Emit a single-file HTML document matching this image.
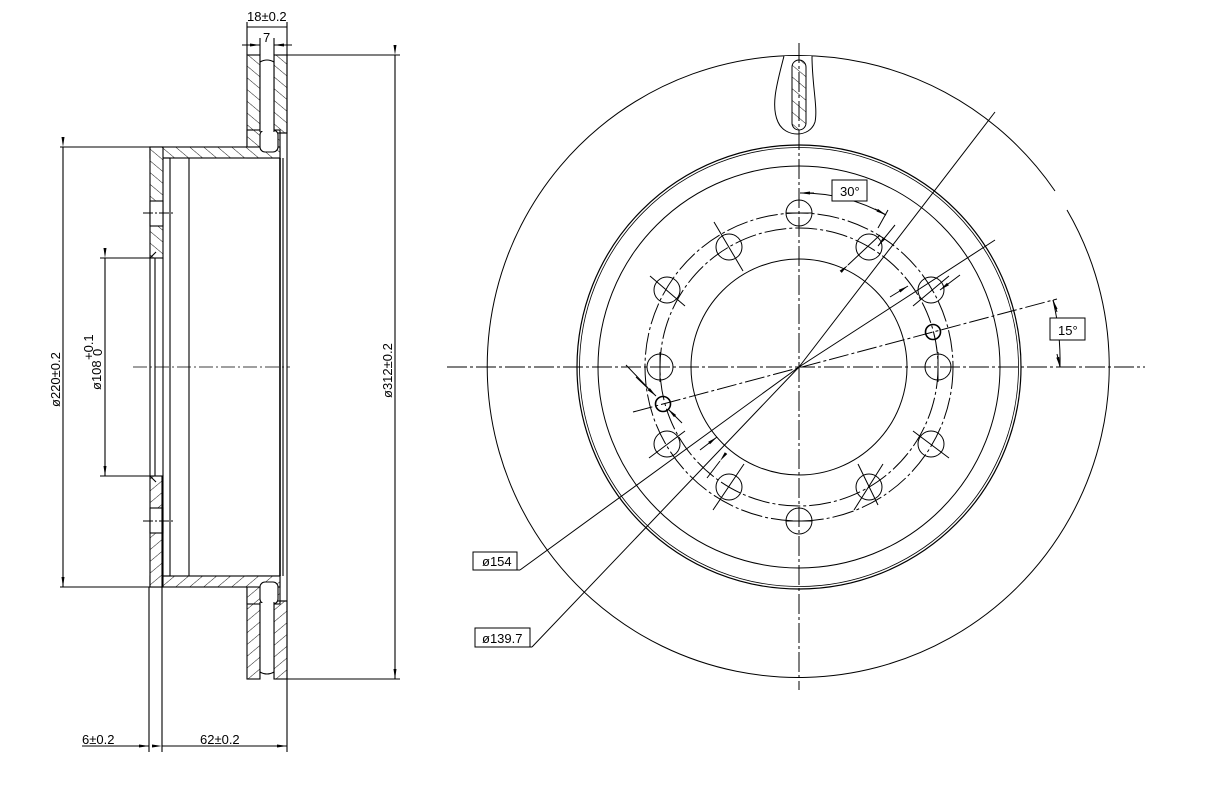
<!DOCTYPE html>
<html><head><meta charset="utf-8"><style>
html,body{margin:0;padding:0;background:#fff;}
svg{display:block;}
text{font-family:"Liberation Sans",sans-serif;font-size:13px;fill:#000;}
</style></head><body>
<svg width="1215" height="799" viewBox="0 0 1215 799" xmlns="http://www.w3.org/2000/svg">
<defs>
<pattern id="h" patternUnits="userSpaceOnUse" width="9" height="9" patternTransform="rotate(-50)">
<rect width="9" height="9" fill="#fff"/><line x1="0" y1="0" x2="0" y2="9" stroke="#000" stroke-width="0.9"/>
</pattern>
<marker id="a" markerWidth="10" markerHeight="6" refX="10" refY="3" orient="auto" markerUnits="userSpaceOnUse"><path d="M0,1.5 L10,3 L0,4.5z" fill="#000"/></marker>
</defs>

<g stroke="#000" stroke-width="1.1" fill="none">
<g id="half">
<rect x="247" y="55" width="13" height="95" fill="url(#h)"/>
<rect x="274" y="55" width="13" height="78" fill="url(#h)"/>
<rect x="247" y="130" width="33" height="28" fill="url(#h)"/>
<rect x="150" y="147" width="130" height="11" fill="url(#h)"/>
<rect x="150" y="147" width="13" height="111" fill="url(#h)"/>
<rect x="150" y="201" width="13" height="25" fill="#fff"/>
<rect x="260" y="130" width="18" height="22" rx="5" fill="#fff"/>
<rect x="260" y="55" width="14" height="76" fill="#fff" stroke="none"/>
<line x1="260" y1="55" x2="260" y2="132"/><line x1="274" y1="55" x2="274" y2="132"/>
<path d="M260,62 Q267,58 274,62"/>
<line x1="278" y1="133" x2="287" y2="133"/>
<line x1="287" y1="55" x2="287" y2="158"/>
<line x1="60" y1="147" x2="150" y2="147"/>
<line x1="143" y1="213" x2="173" y2="213" stroke-dasharray="10,2,2,2"/>
<line x1="100" y1="258" x2="150" y2="258"/>
<line x1="163" y1="158" x2="170" y2="158"/>
<path d="M150,258 L156,252" />
</g>
<use href="#half" transform="translate(0,734) scale(1,-1)"/>
<line x1="150" y1="258" x2="150" y2="476"/>
<line x1="155" y1="258" x2="155" y2="476"/>
<line x1="163" y1="258" x2="163" y2="476"/>
<line x1="170" y1="158" x2="170" y2="576"/>
<line x1="189" y1="158" x2="189" y2="576"/>
<line x1="280" y1="158" x2="280" y2="576" stroke-width="1.6"/>
<line x1="283" y1="158" x2="283" y2="576"/>
<line x1="287" y1="158" x2="287" y2="576"/>
<line x1="287" y1="55" x2="400" y2="55"/>
<line x1="287" y1="679" x2="400" y2="679"/>
<line x1="133" y1="367" x2="290" y2="367" stroke-dasharray="14,3,2,3" stroke-width="0.8"/>
<line x1="63" y1="147" x2="63" y2="587" marker-start="url(#a)" marker-end="url(#a)"/>
<line x1="105" y1="258" x2="105" y2="476" marker-start="url(#a)" marker-end="url(#a)"/>
<line x1="395" y1="55" x2="395" y2="679" marker-start="url(#a)" marker-end="url(#a)"/>
<line x1="149" y1="587" x2="149" y2="752"/>
<line x1="162" y1="476" x2="162" y2="752"/>
<line x1="287" y1="679" x2="287" y2="752"/>
<line x1="82" y1="746" x2="149" y2="746" marker-end="url(#a)"/>
<line x1="162" y1="746" x2="287" y2="746" marker-start="url(#a)" marker-end="url(#a)"/>
<line x1="247" y1="22" x2="247" y2="55"/>
<line x1="287" y1="22" x2="287" y2="55"/>
<line x1="247" y1="27" x2="287" y2="27"/>
<line x1="260" y1="38" x2="260" y2="55"/>
<line x1="274" y1="38" x2="274" y2="55"/>
<line x1="242" y1="45" x2="260" y2="45" marker-end="url(#a)"/>
<line x1="292" y1="45" x2="274" y2="45" marker-end="url(#a)"/>
</g>
<text x="247" y="21" font-size="13">18±0.2</text>
<text x="263" y="42" font-size="12">7</text>
<text x="82" y="744">6±0.2</text>
<text x="200" y="744">62±0.2</text>
<text transform="translate(60,407) rotate(-90)">ø220±0.2</text>
<text transform="translate(101,390) rotate(-90)" font-size="12">ø108</text>
<text transform="translate(93,360) rotate(-90)" font-size="8">+0.1</text>
<text transform="translate(102,356) rotate(-90)" font-size="8">0</text>
<text transform="translate(392,398) rotate(-90)">ø312±0.2</text>

<g stroke="#000" stroke-width="1" fill="none">
<path d="M1055,191 A311,311 0 1 0 1067,210"/>
<circle cx="799" cy="367" r="222" stroke-width="1.2"/>
<circle cx="799" cy="367" r="219.5" stroke-width="0.8"/>
<circle cx="799" cy="367" r="201"/>
<circle cx="799" cy="367" r="108"/>
<circle cx="799" cy="367" r="154" stroke-dasharray="22,3,3,3"/>
<circle cx="799" cy="367" r="139" stroke-dasharray="22,3,3,3"/>
<path d="M784,56 C778,80 770,105 778,122 C785,138 810,138 815,122 C818,108 812,85 812,56" fill="#fff"/>
<rect x="792" y="60" width="14" height="70" rx="7" fill="url(#h)"/>
<line x1="799" y1="43" x2="799" y2="690" stroke-dasharray="20,3,3,3"/>
<line x1="447" y1="367" x2="1145" y2="367" stroke-dasharray="20,3,3,3"/>
<g>
<circle cx="799" cy="213" r="13"/><circle cx="799" cy="521" r="13"/>
<circle cx="660" cy="367" r="13"/><circle cx="938" cy="367" r="13"/>
<circle cx="869" cy="247" r="13"/><circle cx="729" cy="247" r="13"/>
<circle cx="869" cy="487" r="13"/><circle cx="729" cy="487" r="13"/>
<circle cx="931" cy="290" r="13"/><circle cx="667" cy="290" r="13"/>
<circle cx="931" cy="444" r="13"/><circle cx="667" cy="444" r="13"/>
<circle cx="933" cy="332" r="7.5" stroke-width="1.6"/><circle cx="663" cy="404" r="7.5" stroke-width="1.6"/>
<line x1="786" y1="213" x2="812" y2="213"/><line x1="786" y1="521" x2="812" y2="521"/>
<line x1="660" y1="352" x2="660" y2="382"/><line x1="938" y1="352" x2="938" y2="382"/>
<line x1="714" y1="222" x2="743" y2="271"/><line x1="713" y1="510" x2="744" y2="464"/>
<line x1="854" y1="510" x2="883" y2="464"/>
<line x1="650" y1="276" x2="685" y2="306"/>
<line x1="913" y1="306" x2="949" y2="276"/>
<line x1="649" y1="458" x2="685" y2="431"/><line x1="913" y1="431" x2="949" y2="458"/>
<line x1="858" y1="464" x2="878" y2="505"/>
</g>
<line x1="532" y1="647" x2="799" y2="367"/>
<line x1="799" y1="367" x2="995" y2="112"/>
<line x1="520" y1="570" x2="799" y2="367"/>
<line x1="799" y1="367" x2="995" y2="240"/>
<line x1="475" y1="647" x2="532" y2="647"/>
<line x1="473" y1="570" x2="520" y2="570"/>
<line x1="848" y1="265" x2="880" y2="235" marker-start="url(#a)"/>
<line x1="895" y1="225" x2="878" y2="246" marker-end="url(#a)"/>
<line x1="890" y1="297" x2="908" y2="286" marker-end="url(#a)"/>
<line x1="960" y1="275" x2="940" y2="290" marker-end="url(#a)"/>
<line x1="700" y1="450" x2="717" y2="437" marker-end="url(#a)"/>
<line x1="720" y1="461" x2="707" y2="478" marker-start="url(#a)"/>
<line x1="626" y1="365" x2="648" y2="388" />
<line x1="636" y1="377" x2="656" y2="396" marker-end="url(#a)"/>
<line x1="682" y1="423" x2="668" y2="409" marker-end="url(#a)"/>
<line x1="633" y1="412" x2="1057" y2="299" stroke-dasharray="20,3,3,3"/>
<path d="M800,193 A174,174 0 0 1 886,215"/>
<line x1="814" y1="193" x2="800" y2="193" marker-end="url(#a)"/>
<line x1="875" y1="209" x2="886" y2="215" marker-end="url(#a)"/>
<line x1="888" y1="210" x2="878" y2="228"/>
<path d="M1053,300 A265,265 0 0 1 1060,367"/>
<line x1="1057" y1="354" x2="1060" y2="367" marker-end="url(#a)"/>
<line x1="1057" y1="312" x2="1053" y2="300" marker-end="url(#a)"/>
</g>
<rect x="832" y="180" width="35" height="21" fill="#fff" stroke="#000"/>
<text x="840" y="196">30°</text>
<rect x="1050" y="318" width="35" height="22" fill="#fff" stroke="#000"/>
<text x="1058" y="335">15°</text>
<rect x="473" y="552" width="44" height="18" fill="#fff" stroke="#000"/>
<text x="482" y="566" font-size="12">ø154</text>
<rect x="475" y="628" width="55" height="19" fill="#fff" stroke="#000"/>
<text x="482" y="643" font-size="12">ø139.7</text>
</svg>
</body></html>
